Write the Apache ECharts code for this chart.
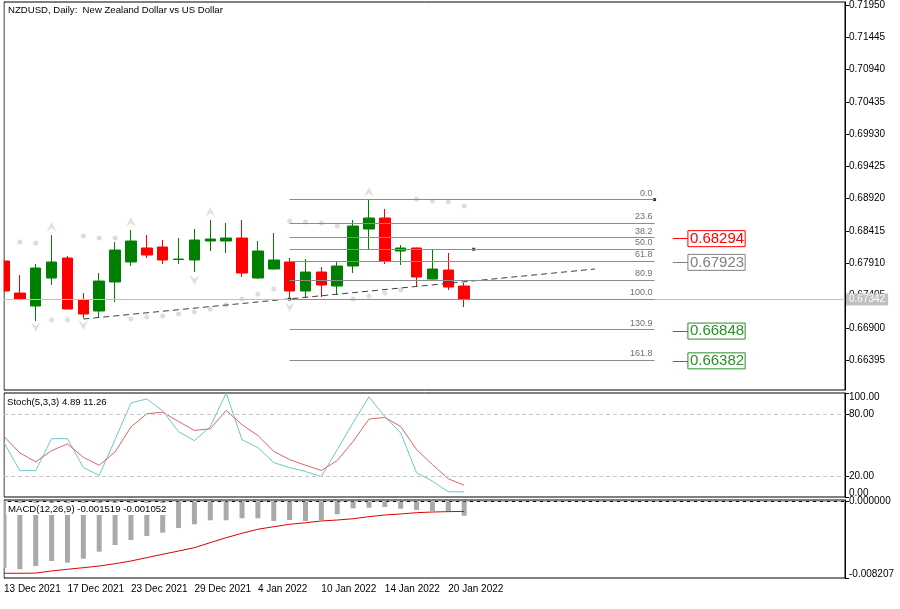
<!DOCTYPE html>
<html>
<head>
<meta charset="utf-8">
<script src="https://cdn.jsdelivr.net/npm/echarts@6/dist/echarts.min.js"></script>
<style>
html,body{margin:0;padding:0;background:#fff;}
#chart{width:900px;height:609px;}
</style>
</head>
<body>
<div id="chart"></div>
<script>
// dates of the daily candles
var dates = ['13 Dec 2021','14 Dec 2021','15 Dec 2021','16 Dec 2021','17 Dec 2021',
  '20 Dec 2021','21 Dec 2021','22 Dec 2021','23 Dec 2021','24 Dec 2021',
  '27 Dec 2021','28 Dec 2021','29 Dec 2021','30 Dec 2021','31 Dec 2021',
  '3 Jan 2022','4 Jan 2022','5 Jan 2022','6 Jan 2022','7 Jan 2022',
  '10 Jan 2022','11 Jan 2022','12 Jan 2022','13 Jan 2022','14 Jan 2022',
  '17 Jan 2022','18 Jan 2022','19 Jan 2022','20 Jan 2022','21 Jan 2022'];

// OHLC
var open  = [0.67944,0.67443,0.67240,0.67678,0.67991,0.67334,0.67162,0.67616,0.67929,0.68148,
             0.68163,0.67968,0.67960,0.68257,0.68257,0.68304,0.67678,0.67819,0.67929,0.67475,
             0.67772,0.67553,0.67866,0.68445,0.68617,0.68101,0.68148,0.67662,0.67803,0.67553];
var close = [0.67475,0.67350,0.67835,0.67929,0.67193,0.67115,0.67631,0.68116,0.68257,0.68038,
             0.67960,0.67975,0.68273,0.68288,0.68304,0.67756,0.68101,0.67960,0.67475,0.67772,
             0.67569,0.67866,0.68492,0.68617,0.67944,0.68148,0.67694,0.67819,0.67537,0.67342];
var low   = [0.67459,0.67334,0.67005,0.67569,0.67190,0.67052,0.67052,0.67303,0.67866,0.67991,
             0.67897,0.67897,0.67772,0.68101,0.68069,0.67694,0.67662,0.67812,0.67381,0.67365,
             0.67381,0.67412,0.67756,0.68116,0.67897,0.67882,0.67537,0.67655,0.67490,0.67224];
var high  = [0.67975,0.67725,0.67897,0.68351,0.68022,0.67443,0.67756,0.68241,0.68429,0.68351,
             0.68273,0.68304,0.68445,0.68586,0.68539,0.68586,0.68257,0.68382,0.67991,0.67975,
             0.67850,0.67929,0.68586,0.68899,0.68758,0.68195,0.68155,0.68132,0.68069,0.67600];

// parabolic SAR dots
var sar = [null,0.68241,0.68226,0.67021,0.67021,0.68335,0.68304,0.68304,0.67037,0.67068,
           0.67084,0.67115,0.67147,0.67193,0.67256,0.67350,0.67428,0.67506,0.68570,0.68554,
           0.68539,0.68492,0.67350,0.67396,0.67443,0.67490,0.68914,0.68883,0.68867,0.68805];
// fractals
var fractalUp   = [null,null,null,0.68476,null,null,null,null,0.68554,null,
                   null,null,null,0.68711,null,null,null,null,null,null,
                   null,null,null,0.69024,null,null,null,null,null,null];
var fractalDown = [null,null,0.66911,null,null,0.66943,null,null,null,null,
                   null,null,0.67647,null,null,null,null,null,0.67224,null,
                   null,null,null,null,null,null,null,null,null,null];

// stochastic (5,3,3)
var stochK = [52.2,25.4,25.4,56.1,56.1,28.3,20.7,55.1,90.5,94.3,
              82.9,62.8,54.2,67.6,100,55.1,47.5,33.1,28.3,24.5,
              19.7,45.6,71.4,96.3,77.4,61.5,23.3,15.2,5.1,4.89];
var stochD = [58.3,42.4,33.8,44.6,51.0,38.2,30.5,43.3,67.3,80.0,
              81.6,72.6,64.0,65.6,83.2,69.5,59.2,43.9,36.0,30.5,
              25.5,35.0,53.5,74.9,76.5,67.8,45.6,31.2,17.5,11.26];

// MACD (12,26,9)
var macd = [-0.00710,-0.00727,-0.00692,-0.00638,-0.00656,-0.00613,-0.00538,-0.00466,-0.00412,-0.00369,
            -0.00334,-0.00284,-0.00244,-0.00201,-0.00201,-0.00179,-0.00179,-0.00208,-0.00198,-0.00208,
            -0.00198,-0.00136,-0.00072,-0.00066,-0.00058,-0.00076,-0.00090,-0.00101,-0.00108,-0.001519];
var signal = [-0.00770,-0.00770,-0.00768,-0.00745,-0.00727,-0.00710,-0.00692,-0.00667,-0.00638,-0.00602,
              -0.00566,-0.00531,-0.00495,-0.00441,-0.00388,-0.00340,-0.00297,-0.00270,-0.00244,-0.00227,
              -0.00208,-0.00198,-0.00184,-0.00162,-0.00144,-0.00133,-0.00119,-0.00112,-0.00108,-0.001052];

// drawing objects
var fiboLevels = ['0.0','23.6','38.2','50.0','61.8','80.9','100.0','130.9','161.8'];
var fiboPrices = [0.68905,0.68538,0.68311,0.68128,0.67944,0.67647,0.67350,0.66870,0.66389];
var trendLine = [[5, 0.67037], [37.24, 0.67819]];
var priceBoxes = [0.68294, 0.67923, 0.66848, 0.66382];
var priceBoxColors = ['#ff0000', '#808080', '#2a8f2a', '#2a8f2a'];
var lastPrice = 0.67342;

// axis ticks
var priceTicks = [0.71950,0.71445,0.70940,0.70435,0.69930,0.69425,0.68920,0.68415,0.67910,0.67405,0.66900,0.66395];
var stochTicks = [0, 20, 80, 100];
var macdTicks = [-0.008207, 0, 0.000171];

var SLOTS = 54;
var cats = [];
for (var i = 0; i < SLOTS; i++) cats.push(i < dates.length ? dates[i] : '');
var candles = dates.map(function (d, i) { return [open[i], close[i], low[i], high[i]]; });
function gaps(a) { return a.map(function (v) { return v == null ? '-' : v; }); }

var FONT = 'Liberation Sans';
var ARROW = 'path://M0,10 L5,0 L10,10 L5,6 Z';
var myChart = echarts.init(document.getElementById('chart'), null, {renderer: 'canvas'});

var gridBase = {left: 4, right: 55, show: true, borderColor: '#000', borderWidth: 1, backgroundColor: '#fff'};
var lblStyle = {fontSize: 10, color: '#000', fontFamily: FONT};
// shift the edge labels inside the pane like the terminal does
var edgeRich = {
  dn: {fontSize: 10, color: '#000', fontFamily: FONT, padding: [9, 0, 0, 0]},
  up: {fontSize: 10, color: '#000', fontFamily: FONT, padding: [0, 0, 8, 0]}
};

var option = {
  animation: false,
  textStyle: {fontFamily: FONT},
  title: [
    {text: 'NZDUSD, Daily:  New Zealand Dollar vs US Dollar', left: 8, top: 5, padding: 0,
     textStyle: {fontSize: 9.6, fontWeight: 'normal', color: '#000', fontFamily: FONT}},
    {text: 'Stoch(5,3,3) 4.89 11.26', left: 7, top: 397, padding: 0,
     textStyle: {fontSize: 9.6, fontWeight: 'normal', color: '#000', fontFamily: FONT}},
    {text: 'MACD(12,26,9) -0.001519 -0.001052', left: 6, top: 503, padding: [1, 2], backgroundColor: '#fff',
     textStyle: {fontSize: 9.6, fontWeight: 'normal', color: '#000', fontFamily: FONT}}
  ],
  grid: [
    Object.assign({top: 2, height: 388}, gridBase),
    Object.assign({top: 393, height: 104}, gridBase),
    Object.assign({top: 500, height: 78}, gridBase)
  ],
  graphic: [
    {type: 'rect', left: 0, top: 0, shape: {width: 3.5, height: 578}, style: {fill: '#fff'}, z: 100, silent: true}
  ],
  xAxis: [
    {type: 'category', gridIndex: 0, data: cats, boundaryGap: false, show: false},
    {type: 'value', gridIndex: 0, min: 0, max: SLOTS - 1, show: false},
    {type: 'category', gridIndex: 1, data: cats, boundaryGap: false, show: false},
    {type: 'category', gridIndex: 2, data: cats, boundaryGap: false,
     axisLine: {show: true, lineStyle: {color: '#000'}},
     axisTick: {show: true, length: 4, lineStyle: {color: '#000'},
                interval: function (i) { return i < dates.length && i % 4 === 0; }},
     axisLabel: {show: true, fontSize: 10, color: '#000', align: 'left', margin: 6, fontFamily: FONT,
                 interval: function (i) { return i < dates.length && i % 4 === 0; }},
     splitLine: {show: false}}
  ],
  yAxis: [
    {type: 'value', gridIndex: 0, position: 'right', min: 0.65926, max: 0.71997,
     axisLine: {show: true, onZero: false, lineStyle: {color: '#000'}},
     axisTick: {show: true, length: 4, customValues: priceTicks, lineStyle: {color: '#000'}},
     axisLabel: Object.assign({customValues: priceTicks, margin: 4,
                 formatter: function (v) { return v.toFixed(5); }}, lblStyle),
     splitLine: {show: false}},
    {type: 'value', gridIndex: 1, position: 'right', min: 0, max: 100,
     axisLine: {show: true, onZero: false, lineStyle: {color: '#000'}},
     axisTick: {show: true, length: 4, customValues: stochTicks, lineStyle: {color: '#000'}},
     axisLabel: Object.assign({customValues: stochTicks, margin: 4, rich: edgeRich,
                 formatter: function (v) {
                   var s = v.toFixed(2);
                   if (v === 100) return '{dn|' + s + '}';
                   if (v === 0) return '{up|' + s + '}';
                   return s;
                 }}, lblStyle),
     splitLine: {show: false}},
    {type: 'value', gridIndex: 2, position: 'right', min: -0.008207, max: 0.000171,
     axisLine: {show: true, onZero: false, lineStyle: {color: '#000'}},
     axisTick: {show: true, length: 4, customValues: macdTicks, lineStyle: {color: '#000'}},
     axisLabel: Object.assign({customValues: macdTicks, margin: 4, rich: edgeRich,
                 formatter: function (v) {
                   var s = v.toFixed(6);
                   if (v > 0) return '{dn|' + s + '}';
                   if (v < -0.008) return '{up|' + s + '}';
                   return s;
                 }}, lblStyle),
     splitLine: {show: false}}
  ],
  series: [
    {
      name: 'SAR', type: 'scatter', xAxisIndex: 0, yAxisIndex: 0, data: gaps(sar),
      symbol: 'circle', symbolSize: 5, itemStyle: {color: '#d4d4d4'}, silent: true
    },
    {
      name: 'FractalUp', type: 'scatter', xAxisIndex: 0, yAxisIndex: 0, data: gaps(fractalUp),
      symbol: ARROW, symbolSize: [10, 10], itemStyle: {color: '#d8d8d8'}, silent: true
    },
    {
      name: 'FractalDown', type: 'scatter', xAxisIndex: 0, yAxisIndex: 0, data: gaps(fractalDown),
      symbol: ARROW, symbolRotate: 180, symbolSize: [10, 10], itemStyle: {color: '#d8d8d8'}, silent: true
    },
    {
      name: 'NZDUSD', type: 'candlestick', xAxisIndex: 0, yAxisIndex: 0, data: candles,
      barWidth: 11, clip: true,
      itemStyle: {color: '#008000', color0: '#ff0000', borderColor: '#008000', borderColor0: '#ff0000', borderWidth: 1}
    },
    {
      name: 'Trend', type: 'line', xAxisIndex: 1, yAxisIndex: 0, data: trendLine,
      showSymbol: false, lineStyle: {color: '#404040', width: 1, type: [6, 4]}, silent: true,
      markLine: {
        silent: true, symbol: 'none', precision: 6,
        label: {position: 'end', distance: 0, fontSize: 15, padding: [1, 1, 0, 2], borderWidth: 1, fontFamily: FONT},
        data: priceBoxes.map(function (p, k) {
          return [
            {coord: [42.15, p], lineStyle: {color: priceBoxColors[k], type: 'solid', width: 1},
             label: {formatter: p.toFixed(5), color: priceBoxColors[k], borderColor: priceBoxColors[k]}},
            {coord: [43.1, p]}
          ];
        }).concat([[
          {coord: [0, lastPrice], lineStyle: {color: '#c0c0c0', type: 'solid', width: 1},
           label: {position: 'end', distance: 1, formatter: lastPrice.toFixed(5), backgroundColor: '#c0c0c0',
                   color: '#fff', fontSize: 10, padding: [1, 3], borderWidth: 0}},
          {coord: [SLOTS - 1, lastPrice]}
        ]])
      }
    },
    {
      name: 'Fibo', type: 'scatter', xAxisIndex: 1, yAxisIndex: 0,
      data: [[41, fiboPrices[0]], [18, fiboPrices[6]], [29.6, fiboPrices[3]]],
      symbol: 'rect', symbolSize: 3, itemStyle: {color: '#000'}, silent: true, z: 3,
      markLine: {
        silent: true, symbol: 'none', precision: 6,
        lineStyle: {color: '#8c8c8c', type: 'solid', width: 1},
        label: {position: 'insideEndTop', formatter: '{b}', fontSize: 9, color: '#707070', distance: 2, fontFamily: FONT},
        data: fiboLevels.map(function (lv, k) {
          return [{name: lv, coord: [18, fiboPrices[k]]}, {coord: [41, fiboPrices[k]]}];
        })
      }
    },
    {
      name: '%K', type: 'line', xAxisIndex: 2, yAxisIndex: 1, data: stochK,
      showSymbol: false, lineStyle: {color: '#6cc8c8', width: 1}, silent: true,
      markLine: {
        silent: true, symbol: 'none', label: {show: false},
        lineStyle: {color: '#c8c8c8', type: [4, 3], width: 1},
        data: [{yAxis: 80}, {yAxis: 20}]
      }
    },
    {
      name: '%D', type: 'line', xAxisIndex: 2, yAxisIndex: 1, data: stochD,
      showSymbol: false, lineStyle: {color: '#e06464', width: 1}, silent: true
    },
    {
      name: 'MACD', type: 'bar', xAxisIndex: 3, yAxisIndex: 2, data: macd,
      barWidth: 5, itemStyle: {color: '#a9a9a9'}, silent: true,
      markLine: {
        silent: true, symbol: 'none', label: {show: false}, precision: 6,
        lineStyle: {color: '#c8c8c8', type: [4, 3], width: 1},
        data: [{yAxis: 0}]
      }
    },
    {
      name: 'Signal', type: 'line', xAxisIndex: 3, yAxisIndex: 2, data: signal,
      showSymbol: false, lineStyle: {color: '#e00000', width: 1}, silent: true
    }
  ]
};

myChart.setOption(option);
window.onresize = myChart.resize;
</script>
</body>
</html>
